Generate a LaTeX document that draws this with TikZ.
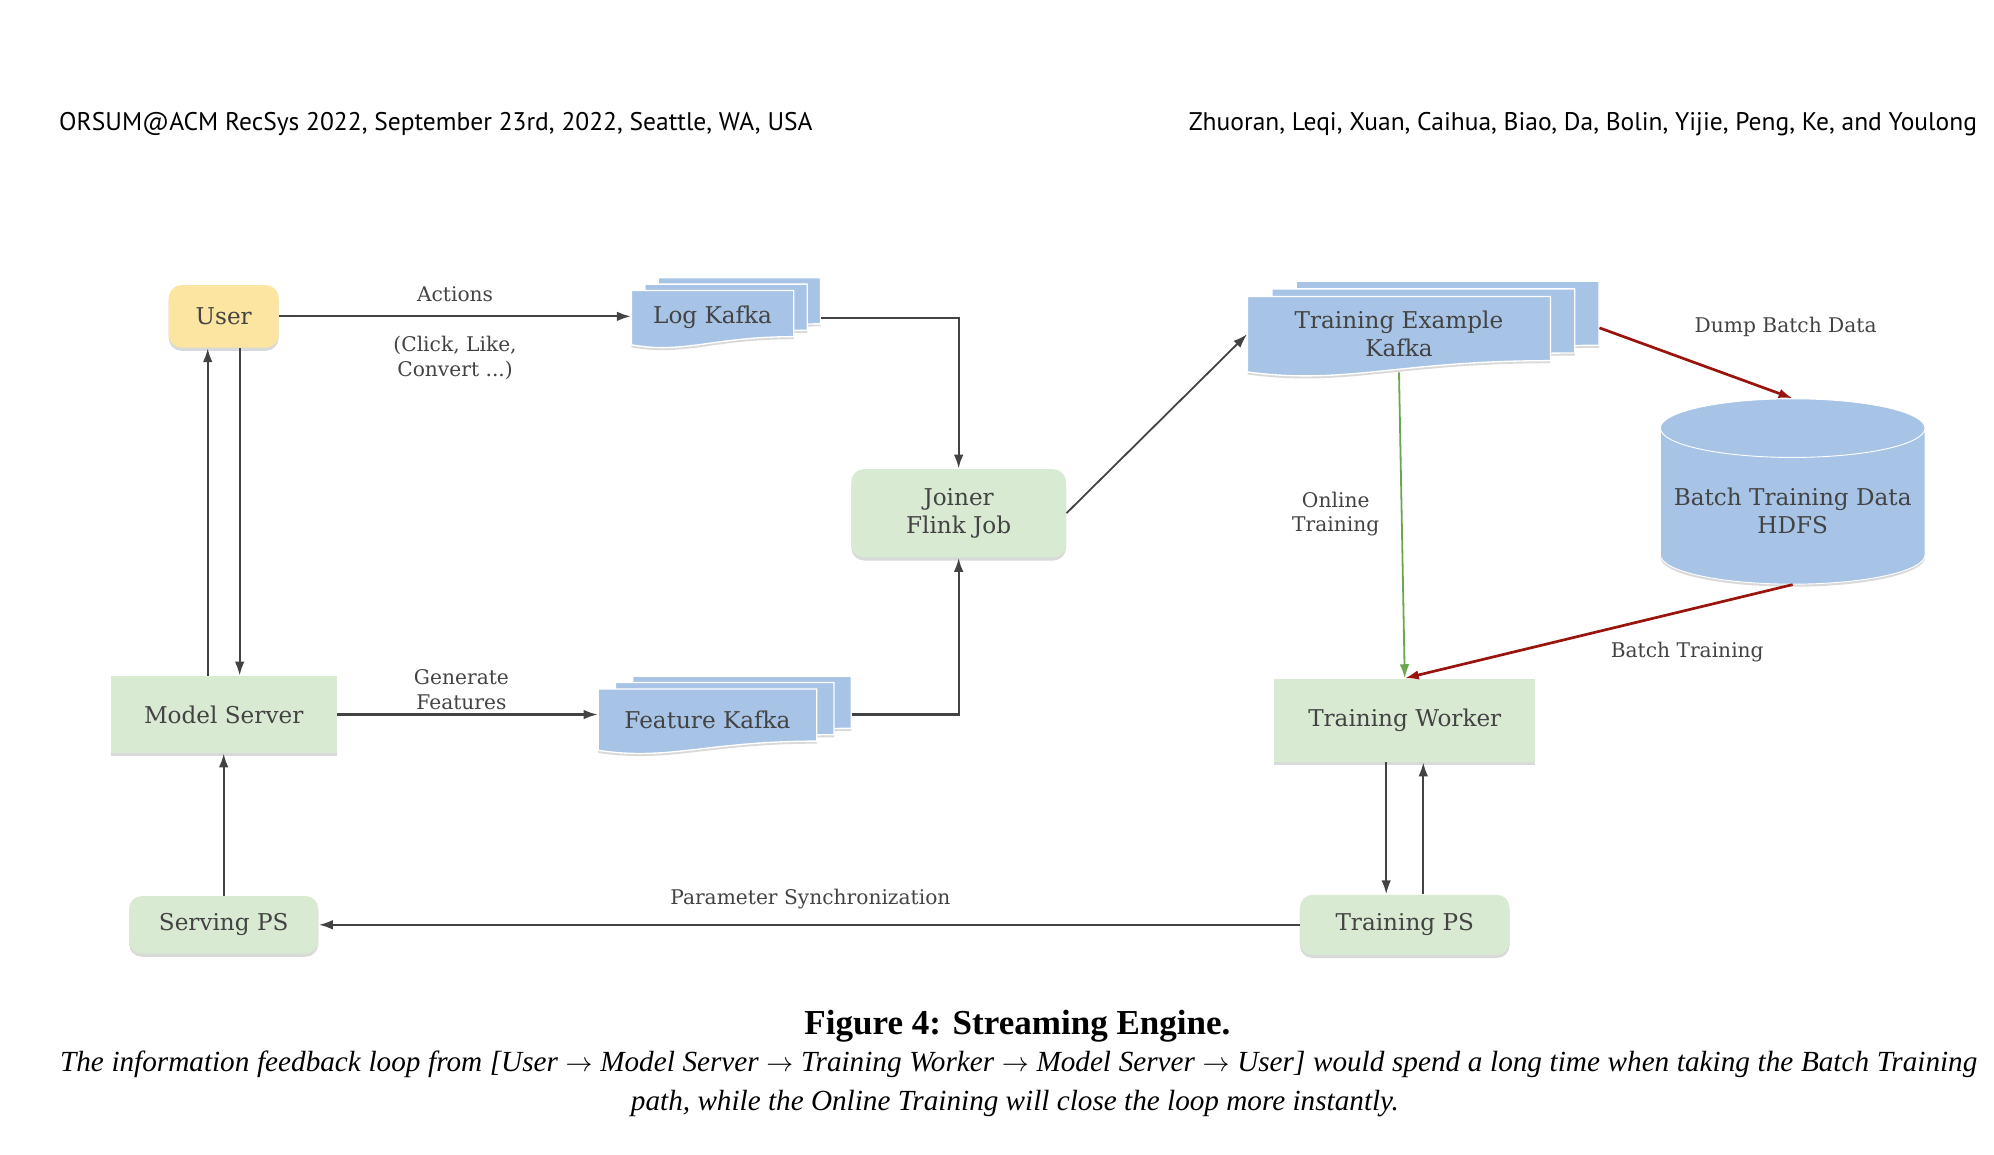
\documentclass[tikz,border=0pt]{standalone}
\usepackage{fontspec}
\setmainfont{DejaVu Serif}
\newfontfamily\headfont{PT Sans}
\newfontfamily\capfont{Liberation Serif}
\usetikzlibrary{shapes,
                arrows.meta,
                positioning,
                shadows}
\definecolor{boxgreen}{RGB}{217,234,211}
\definecolor{useryellow}{RGB}{252,229,161}
\definecolor{kafkablue}{RGB}{167,196,230}
\definecolor{linegray}{RGB}{67,67,67}
\definecolor{batchred}{RGB}{152,20,12}
\definecolor{onlinegreen}{RGB}{106,168,79}
\tikzset{block/.style=
   {rectangle,
    fill=boxgreen,
    text=linegray,
    text centered,
    align=center,
    font=\fontsize{10.3}{12.5}\selectfont,
    drop shadow={shadow xshift=0pt,
                 shadow yshift=-0.05cm,
                 opacity=0.3}}}
\tikzset{rblock/.style = {block, rounded corners=0.2cm}}
\tikzset{docfill/.style =
   {fill=kafkablue,
    draw=white,
    line width=0.6pt,
    drop shadow={shadow xshift=0pt,
                 shadow yshift=-0.04cm,
                 opacity=0.3}}}
\tikzset{doctext/.style =
   {rectangle,
    inner sep=0pt,
    text=linegray,
    align=center,
    font=\fontsize{10.3}{12.5}\selectfont}}
\tikzset{lbl/.style = {text=linegray, align=center, inner sep=0pt,
                       font=\fontsize{9}{10.8}\selectfont}}
\tikzset{header/.style = {inner sep=0pt, font=\headfont\fontsize{11.35}{14}\selectfont}}
\tikzset{arrow/.style = {draw=linegray, line width=1pt,
                         -{Latex[length=0.22cm, width=0.15cm]}}}
\tikzset{batch/.style = {arrow, draw=batchred, line width=1.2pt}}
\tikzset{online/.style = {arrow, draw=onlinegreen, line width=0.8pt}}
% stacked kafka documents: name, x, y, half width, half height, dx, dy, text
\newcommand{\kafkastack}[8]{%
  \foreach \s in {2,1,0}
    \path[docfill, shift={(#2+\s*#6,#3+\s*#7)}]
      (-#4,#5) -- (#4,#5) -- (#4,-0.7*#5)
      .. controls (0,-0.7*#5) and (-0.35*#4,-1.35*#5) .. (-#4,-#5) -- cycle;
  \node[doctext, minimum width=2*#4cm, minimum height=2*#5cm] (#1) at (#2,#3) {#8};}

\begin{document}
\begin{tikzpicture}[auto]

    \useasboundingbox (0,0) rectangle (31.2,-18.06);

    \node [header, anchor=west] (venue) at (0.92,-1.94)
    {ORSUM@ACM RecSys 2022, September 23rd, 2022, Seattle, WA, USA};
    \node [header, anchor=east] (authors) at (30.94,-1.94)
    {Zhuoran, Leqi, Xuan, Caihua, Biao, Da, Bolin, Yijie, Peng, Ke, and Youlong};

    % boxes
    \node [rblock, fill=useryellow,
           minimum width=1.72cm,
           minimum height=0.98cm] (user) at (3.5,-4.95) {User};
    \node [block,
           minimum width=3.54cm,
           minimum height=1.2cm] (ms) at (3.5,-11.18) {Model Server};
    \node [rblock,
           minimum width=2.96cm,
           minimum height=0.9cm] (sps) at (3.5,-14.47) {Serving PS};
    \node [rblock,
           minimum width=3.36cm,
           minimum height=1.38cm] (joiner) at (15.0,-8.03) {Joiner\\Flink Job};
    \node [block,
           minimum width=4.08cm,
           minimum height=1.3cm] (tw) at (21.98,-11.27) {Training Worker};
    \node [rblock,
           minimum width=3.28cm,
           minimum height=0.94cm] (tps) at (21.98,-14.47) {Training PS};

    \kafkastack{logk}{11.15}{-4.97}{1.27}{0.425}{0.21}{0.1}{Log Kafka}
    \kafkastack{fk}{11.07}{-11.26}{1.71}{0.48}{0.27}{0.1}{Feature Kafka}
    \kafkastack{tek}{21.89}{-5.23}{2.37}{0.59}{0.38}{0.12}{Training Example\\Kafka}

    \node [cylinder,
           shape border rotate=90,
           aspect=0.232,
           minimum width=4.14cm,
           minimum height=2.9cm,
           fill=kafkablue,
           draw=white,
           text=linegray,
           align=center,
           font=\fontsize{10.3}{12.5}\selectfont,
           drop shadow={shadow xshift=0pt, shadow yshift=-0.04cm, opacity=0.3},
           anchor=shape center] (hdfs) at (28.05,-7.69)
    {Batch Training Data\\HDFS};

    \coordinate (logout) at ([xshift=0.42cm]logk.east);
    \coordinate (fkout) at ([xshift=0.54cm]fk.east);
    \coordinate (tekout) at ([xshift=0.76cm, yshift=0.1cm]tek.east);

    % connectors
    \draw [arrow] (user.east) -- (user.east -| logk.west);
    \draw [arrow] (logout) -| (joiner.north);
    \draw [arrow] (ms.east) -- (ms.east -| fk.west);
    \draw [arrow] (fkout |- ms.east) -| (joiner.south);
    \draw [arrow, line width=0.8pt] (joiner.east) -- (tek.west);
    \draw [online] (tek.south) -- (tw.north);
    \draw [batch] (tekout) -- (hdfs.north);
    \draw [batch] (hdfs.south) -- (tw.north);
    \draw [arrow] ([xshift=-0.29cm]tw.south) -- ([xshift=-0.29cm]tps.north);
    \draw [arrow] ([xshift=0.29cm]tps.north) -- ([xshift=0.29cm]tw.south);
    \draw [arrow] (tps.west) -- (sps.east);
    \draw [arrow] (sps.north) -- (ms.south);
    \draw [arrow] ([xshift=-0.25cm]ms.north) -- ([xshift=-0.25cm]user.south);
    \draw [arrow] ([xshift=0.25cm]user.south) -- ([xshift=0.25cm]ms.north);

    % edge labels
    \node [lbl] (actions) at (7.12,-4.6) {Actions};
    \node [lbl] (clicks) at (7.12,-5.6) {(Click, Like,\\Convert ...)};
    \node [lbl] (genfeat) at (7.22,-10.79) {Generate\\Features};
    \node [lbl] (paramsync) at (12.68,-14.06) {Parameter Synchronization};
    \node [lbl] (onlinelbl) at (20.9,-8.04) {Online\\Training};
    \node [lbl] (dumplbl) at (27.94,-5.12) {Dump Batch Data};
    \node [lbl] (batchlbl) at (26.4,-10.2) {Batch Training};

    % caption
    \node [inner sep=0pt, font=\capfont\bfseries\fontsize{15.6}{18}\selectfont] (figcap)
    at (15.92,-16.06) {Figure 4: Streaming Engine.};
    \node [inner sep=0pt, font=\capfont\itshape\fontsize{13}{16}\selectfont] (capone)
    at (15.94,-16.66) {\makebox[30cm][s]{The information feedback loop from [User $\rightarrow$ Model Server $\rightarrow$ Training Worker $\rightarrow$ Model Server $\rightarrow$ User] would spend a long time when taking the Batch Training}};
    \node [inner sep=0pt, font=\capfont\itshape\fontsize{13}{16}\selectfont] (captwo)
    at (15.88,-17.26) {path, while the Online Training will close the loop more instantly.};

\end{tikzpicture}
\end{document}
